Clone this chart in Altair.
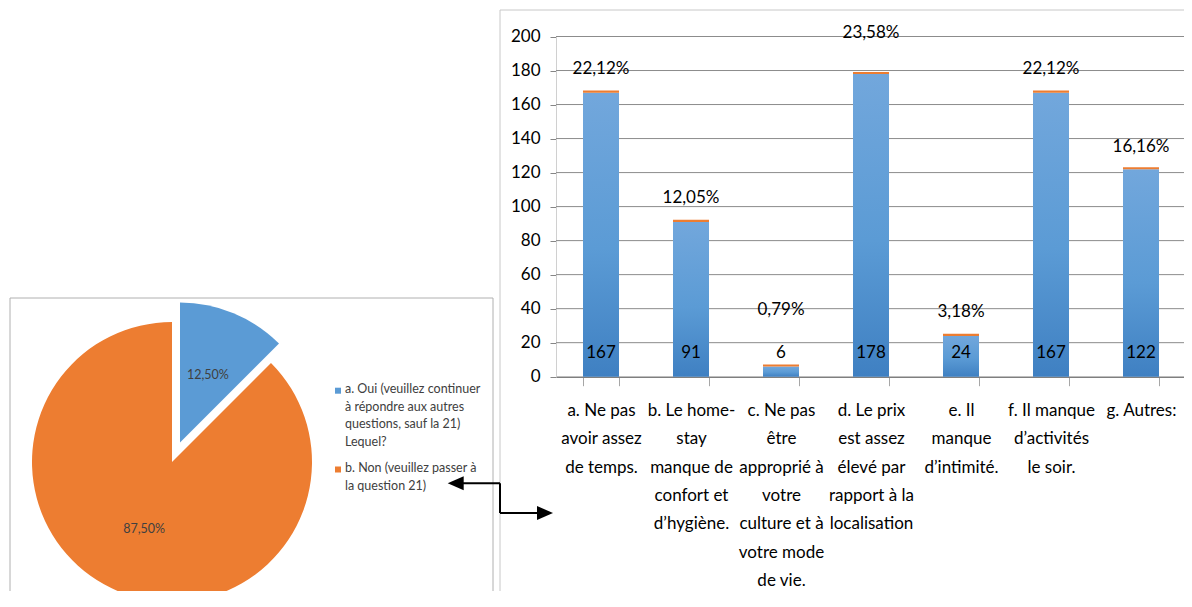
import altair as alt
import pandas as pd

# ---------------- data ----------------
categories = [
    "a. Ne pas|avoir assez|de temps.",
    "b. Le home-|stay|manque de|confort et|d’hygiène.",
    "c. Ne pas|être|approprié à|votre|culture et à|votre mode|de vie.",
    "d. Le prix|est assez|élevé par|rapport à la|localisation",
    "e. Il|manque|d’intimité.",
    "f. Il manque|d’activités|le soir.",
    "g. Autres:",
]
counts = [167, 91, 6, 178, 24, 167, 122]
cap_series = [1.2, 1.2, 1.2, 1.2, 1.2, 1.2, 1.2]
percent_text = ["22,12%", "12,05%", "0,79%", "23,58%", "3,18%", "22,12%", "16,16%"]
percent_label_at = [181, 105, 39, 202, 38, 181, 135]
count_label_at = 14
y_ticks = [0, 20, 40, 60, 80, 100, 120, 140, 160, 180, 200]

pie_labels = [
    "a. Oui (veuillez continuer|à répondre aux autres|questions, sauf la 21)|Lequel?",
    "b. Non (veuillez passer à|la question 21)",
]
pie_shares = [12.5, 87.5]
pie_text = ["12,50%", "87,50%"]
pie_order = [0, 1]

# ---------------- layout constants ----------------
W, H = 1176, 583
FONT = "Lato"
BLUE, ORANGE = "#5b9bd5", "#ed7d31"

bar_df = pd.DataFrame({
    "cat": categories, "count": counts, "cap": cap_series,
    "pct": percent_text, "pct_at": percent_label_at,
})
pie_df = pd.DataFrame({"label": pie_labels, "share": pie_shares,
                       "txt": pie_text, "order": pie_order})
one = alt.Data(values=[{"k": 1}])

x_scale = alt.Scale(domain=categories, range=[548, 1178], paddingInner=0.6, paddingOuter=0.3)
y_scale = alt.Scale(domain=[0, 200], range=[368.7, 28.5], nice=False, zero=True)
theta_scale = alt.Scale(domain=[0, 100], range=[0, 6.283185307179586])

x_axis = alt.Axis(
    title=None, orient="bottom", offset=-(H - 368.7), domainColor="#7f7f7f", domainWidth=1.5,
    tickColor="#a6a6a6", tickSize=9, tickBand="extent", labelAngle=0,
    labelExpr="split(datum.label, '|')", labelLineHeight=28.3, labelFont=FONT,
    labelFontSize=17, labelColor="#000000", labelPadding=17, labelLimit=0,
    labelOverlap=False, grid=False,
)
y_axis = alt.Axis(
    title=None, orient="left", offset=-548, values=y_ticks, grid=False,
    domainColor="#d0d0d0", tickColor="#868686", tickSize=6, labelFont=FONT,
    labelFontSize=17, labelColor="#000000", labelPadding=10,
)

gradient = alt.LinearGradient(
    gradient="linear",
    stops=[alt.GradientStop(color="#72a7dc", offset=0),
           alt.GradientStop(color="#5b9bd5", offset=0.55),
           alt.GradientStop(color="#3f80c2", offset=1)],
    x1=0, x2=0, y1=0, y2=1,
)

X = alt.X("cat:N", scale=x_scale, sort=None, axis=x_axis)

grid = alt.Chart(pd.DataFrame({"tick": y_ticks[1:]})).mark_rule(
    color="#8c8c8c", strokeWidth=1
).encode(y=alt.Y("tick:Q", scale=y_scale, axis=y_axis), x=alt.value(548), x2=alt.value(1178))

base = alt.Chart(bar_df)
bars = base.mark_bar(color=gradient).encode(
    x=X,
    y=alt.Y("count:Q", scale=y_scale, axis=y_axis),
)
caps = base.transform_calculate(top="datum.count + datum.cap").mark_bar(color=ORANGE).encode(
    x=X,
    y=alt.Y("top:Q", scale=y_scale, axis=y_axis),
    y2="count:Q",
)
pct_labels = base.mark_text(font=FONT, fontSize=17, color="#000000", baseline="middle").encode(
    x=X,
    y=alt.Y("pct_at:Q", scale=y_scale, axis=y_axis),
    text="pct:N",
)
val_labels = base.mark_text(font=FONT, fontSize=17, color="#000000", baseline="middle").encode(
    x=X,
    y=alt.YDatum(count_label_at, scale=y_scale, axis=y_axis),
    text="count:Q",
)

# ---------------- pie ----------------
color_enc = alt.Color("label:N", scale=alt.Scale(domain=pie_labels, range=[BLUE, ORANGE]), legend=None)

pie_base = alt.Chart(pie_df).transform_window(
    cum="sum(share)", sort=[alt.SortField("order")], frame=[None, 0]
).transform_calculate(t0="datum.cum - datum.share", mid="datum.cum - datum.share / 2")

centers = {0: (172, 434.6), 1: (164, 454)}
legend_rows = {0: 382.7, 1: 461.5}
pie_layers = []
legend_layers = []
for idx in pie_order:
    cx, cy = centers[idx]
    sub = pie_base.transform_filter(alt.datum.order == idx)
    pie_layers.append(sub.mark_arc(outerRadius=140).encode(
        theta=alt.Theta("t0:Q", scale=theta_scale, stack=None),
        theta2="cum:Q", color=color_enc, x=alt.value(cx), y=alt.value(cy),
    ))
    pie_layers.append(sub.mark_text(font=FONT, fontSize=12.5, color="#404040", radius=73).encode(
        theta=alt.Theta("mid:Q", scale=theta_scale, stack=None),
        text="txt:N", x=alt.value(cx), y=alt.value(cy),
    ))
    ly = legend_rows[idx]
    legend_layers.append(sub.mark_square(size=36, opacity=1, strokeWidth=0).encode(
        color=color_enc, x=alt.value(330), y=alt.value(ly)))
    legend_layers.append(sub.transform_calculate(lines="split(datum.label, '|')").mark_text(
        font=FONT, fontSize=12.5, color="#404040", align="left", baseline="top", lineHeight=17.5,
    ).encode(text="lines:N", x=alt.value(337), y=alt.value(ly - 7.5)))

# ---------------- frames & arrows ----------------
def hrule(x1, x2, y, color, w=1):
    return alt.Chart(one).mark_rule(color=color, strokeWidth=w).encode(
        x=alt.value(x1), x2=alt.value(x2), y=alt.value(y))

def vrule(x, y1, y2, color, w=1):
    return alt.Chart(one).mark_rule(color=color, strokeWidth=w).encode(
        x=alt.value(x), y=alt.value(y1), y2=alt.value(y2))

def head(x, y, path):
    return alt.Chart(one).mark_point(shape=path, size=256, filled=True, color="#000000",
                                     opacity=1, strokeWidth=0).encode(x=alt.value(x), y=alt.value(y))

frames = [
    hrule(492, W, 2, "#c8c8c8"), vrule(492, 2, H, "#c8c8c8"),
    hrule(2, 485, 290, "#b0b0b0"), vrule(2, 290, H, "#b0b0b0"), vrule(485, 290, H, "#b0b0b0"),
]
arrows = [
    hrule(447.7, 492, 475.3, "#000000", 2), vrule(492, 475.3, 505, "#000000", 2),
    hrule(492, 537, 505, "#000000", 2),
    head(447.7, 475.3, "M-1,0L1,-0.875L1,0.875Z"),
    head(537, 505, "M1,0L-1,-0.875L-1,0.875Z"),
]

chart = alt.layer(
    *frames, grid, bars, caps, pct_labels, val_labels, *pie_layers, *legend_layers, *arrows
).properties(
    width=W, height=H, autosize=alt.AutoSizeParams(type="none"), padding=0,
    background="#ffffff",
).configure_view(stroke=None)

chart.save("out.html", embed_options={"renderer": "svg", "actions": False})
